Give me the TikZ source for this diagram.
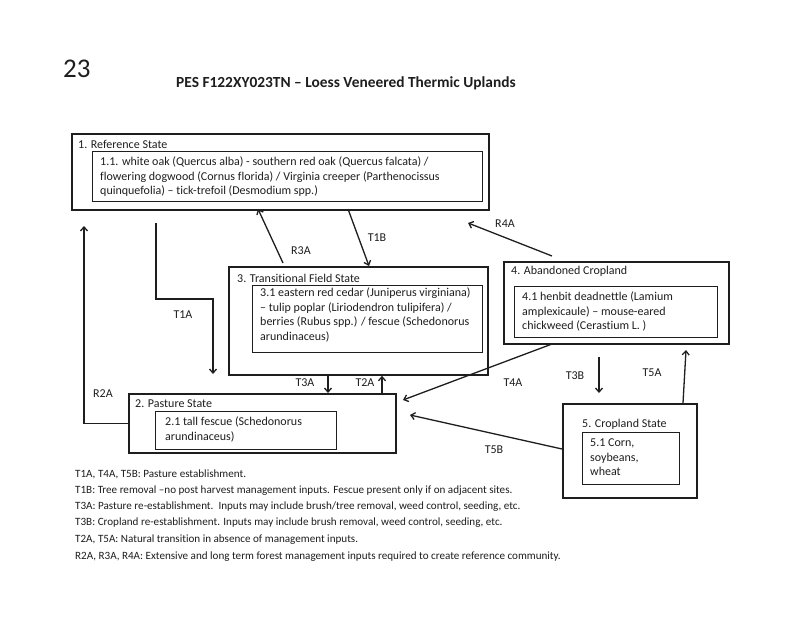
\documentclass[tikz,border=0pt]{standalone}
\usepackage{fontspec}
\setmainfont[Ligatures={NoCommon}]{Carlito}
\usetikzlibrary{arrows.meta}
\definecolor{ink}{HTML}{1E1E1E}
\begin{document}
\begin{tikzpicture}[x=1pt,y=-1pt,
 outer/.style={draw=ink, line width=1.8pt, inner sep=0pt, anchor=north west},
 innerbox/.style={draw=ink, line width=1.2pt, inner sep=0pt, anchor=north west},
 ttl/.style={font=\fontsize{12}{14}\selectfont, text=ink, inner sep=0pt, anchor=west},
 body/.style={font=\fontsize{12}{14.5}\selectfont, text=ink, inner sep=0pt, anchor=north west, align=left},
 lbl/.style={font=\fontsize{12}{14}\selectfont, text=ink, inner sep=0pt},
 arr/.style={draw=ink, line width=1.3pt, -{Straight Barb[length=4pt,width=7pt]}},
 leg/.style={font=\fontsize{11.1}{13}\selectfont, text=ink, inner sep=0pt, anchor=west}]
\useasboundingbox[fill=white] (0,0) rectangle (800,617);

% titles
\node[anchor=west, inner sep=0pt, text=ink, font=\fontsize{27}{29}\selectfont] (num) at (63,69) {23};
\node[inner sep=0pt, text=ink, font=\fontsize{15.4}{17}\selectfont\bfseries] (title) at (346,83) {PES F122XY023TN – Loess Veneered Thermic Uplands};

% boxes
\node[outer, minimum width=417pt, minimum height=76pt] (b1) at (71,133) {};
\node[innerbox, minimum width=390pt, minimum height=50pt] (i1) at (92,151) {};
\node[outer, minimum width=259pt, minimum height=108pt] (b3) at (228,266) {};
\node[innerbox, minimum width=230pt, minimum height=67pt] (i3) at (252,285) {};
\node[outer, minimum width=225pt, minimum height=82pt] (b4) at (503,261) {};
\node[innerbox, minimum width=203pt, minimum height=51pt] (i4) at (514,286) {};
\node[outer, minimum width=267pt, minimum height=59pt] (b2) at (128,393) {};
\node[innerbox, minimum width=181pt, minimum height=38pt] (i2) at (155,411) {};
\node[outer, minimum width=134pt, minimum height=94pt] (b5) at (562,403) {};
\node[innerbox, minimum width=97pt, minimum height=52pt] (i5) at (582,432) {};

% state titles
\node[ttl] (t1) at (78,144) {1. Reference State};
\node[ttl] (t2) at (135,404) {2. Pasture State};
\node[ttl] (t3) at (237,278) {3. Transitional Field State};
\node[ttl] (t4) at (511,271) {4. Abandoned Cropland};
\node[ttl] (t5) at (582,424) {5. Cropland State};

% community texts
\node[body] (c1) at (100,157) {1.1. white oak (Quercus alba) - southern red oak (Quercus falcata) /\\flowering dogwood (Cornus florida) / Virginia creeper (Parthenocissus\\quinquefolia) – tick-trefoil (Desmodium spp.)};
\node[body] (c3) at (260,288) {3.1 eastern red cedar (Juniperus virginiana)\\– tulip poplar (Liriodendron tulipifera) /\\berries (Rubus spp.) / fescue (Schedonorus\\arundinaceus)};
\node[body] (c4) at (522,292) {4.1 henbit deadnettle (Lamium\\amplexicaule) – mouse-eared\\chickweed (Cerastium L. )};
\node[body] (c2) at (165,417) {2.1 tall fescue (Schedonorus\\arundinaceus)};
\node[body] (c5) at (590,439) {5.1 Corn,\\soybeans,\\wheat};

% free ends
\coordinate (r2e) at (84,226);
\coordinate (t1s) at (156,223);
\coordinate (t1m) at (213,299);
\coordinate (t1e) at (213,374);
\coordinate (r3s) at (283,263);
\coordinate (r3e) at (258,209);
\coordinate (t1bs) at (348,209);
\coordinate (t1be) at (369,266);
\coordinate (r4s) at (552,256);
\coordinate (r4e) at (468,223);
\coordinate (t3ax) at (328,0);
\coordinate (t2ax) at (382,0);
\coordinate (t4s) at (552,344);
\coordinate (t4e) at (403,400);
\coordinate (t5bs) at (562,449);
\coordinate (t5be) at (410,415);
\coordinate (t3bs) at (599,357);
\coordinate (t3be) at (599,393);
\coordinate (t5as) at (683,403);
\coordinate (t5ae) at (686,350);

% connectors
\draw[arr] (b2.west) -| (r2e);
\draw[arr] (t1s) |- (t1m) -- (t1e);
\draw[arr] (r3s) -- (r3e);
\draw[arr] (t1bs) -- (t1be);
\draw[arr] (r4s) -- (r4e);
\draw[arr] (b3.south -| t3ax) -- (b2.north -| t3ax);
\draw[arr] (b2.north -| t2ax) -- (b3.south -| t2ax);
\draw[arr] (t4s) -- (t4e);
\draw[arr] (t5bs) -- (t5be);
\draw[arr] (t3bs) -- (t3be);
\draw[arr] (t5as) -- (t5ae);

% connector labels
\node[lbl] (lr2a) at (103,394) {R2A};
\node[lbl] (lt1a) at (183,315) {T1A};
\node[lbl] (lr3a) at (301,251) {R3A};
\node[lbl] (lt1b) at (377,238) {T1B};
\node[lbl] (lr4a) at (505,224) {R4A};
\node[lbl] (lt3a) at (305,383) {T3A};
\node[lbl] (lt2a) at (365,383) {T2A};
\node[lbl] (lt4a) at (513,383) {T4A};
\node[lbl] (lt5b) at (494,450) {T5B};
\node[lbl] (lt3b) at (575,376) {T3B};
\node[lbl] (lt5a) at (652,373) {T5A};

% legend
\node[leg] (g1) at (75,474) {T1A, T4A, T5B: Pasture establishment.};
\node[leg] (g2) at (75,491) {T1B: Tree removal –no post harvest management inputs. Fescue present only if on adjacent sites.};
\node[leg] (g3) at (75,507) {T3A: Pasture re-establishment.\ \ Inputs may include brush/tree removal, weed control, seeding, etc.};
\node[leg] (g4) at (75,523) {T3B: Cropland re-establishment. Inputs may include brush removal, weed control, seeding, etc.};
\node[leg] (g5) at (75,540) {T2A, T5A: Natural transition in absence of management inputs.};
\node[leg] (g6) at (75,557) {R2A, R3A, R4A: Extensive and long term forest management inputs required to create reference community.};
\end{tikzpicture}
\end{document}
